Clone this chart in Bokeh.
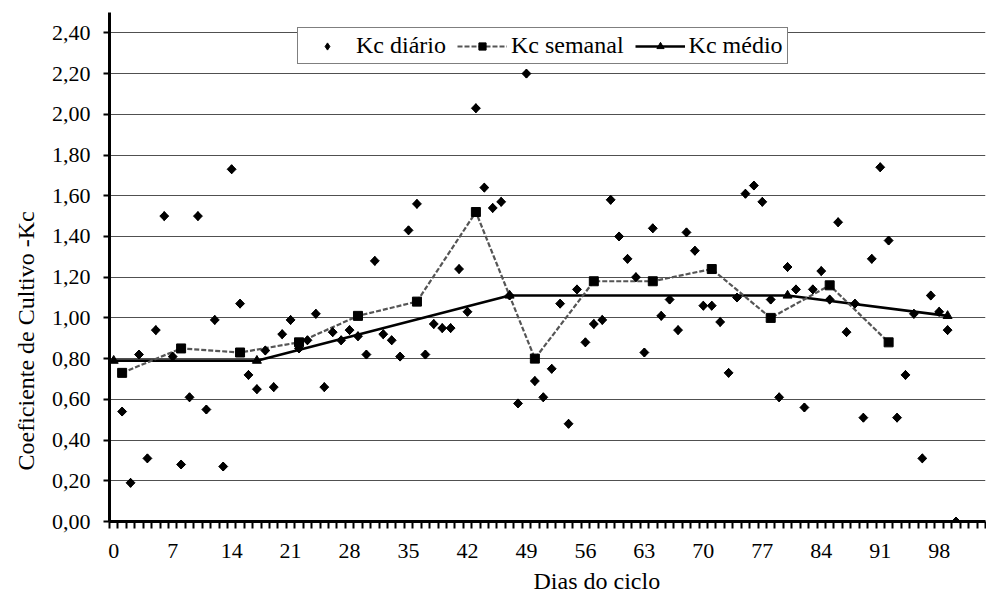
import numpy as np
from bokeh.plotting import figure
from bokeh.models import (Range1d, FixedTicker, CustomJSTickFormatter, Legend, LegendItem, Title)
from bokeh.embed import file_html
from bokeh.resources import INLINE

# ---- data ----
days_diario = list(range(1, 101))
kc_diario = [0.54, 0.19, 0.82, 0.31, 0.94, 1.50, 0.81, 0.28, 0.61, 1.50,
             0.55, 0.99, 0.27, 1.73, 1.07, 0.72, 0.65, 0.84, 0.66, 0.92,
             0.99, 0.85, 0.89, 1.02, 0.66, 0.93, 0.89, 0.94, 0.91, 0.82,
             1.28, 0.92, 0.89, 0.81, 1.43, 1.56, 0.82, 0.97, 0.95, 0.95,
             1.24, 1.03, 2.03, 1.64, 1.54, 1.57, 1.11, 0.58, 2.20, 0.69,
             0.61, 0.75, 1.07, 0.48, 1.14, 0.88, 0.97, 0.99, 1.58, 1.40,
             1.29, 1.20, 0.83, 1.44, 1.01, 1.09, 0.94, 1.42, 1.33, 1.06,
             1.06, 0.98, 0.73, 1.10, 1.61, 1.65, 1.57, 1.09, 0.61, 1.25,
             1.14, 0.56, 1.14, 1.23, 1.09, 1.47, 0.93, 1.07, 0.51, 1.29,
             1.74, 1.38, 0.51, 0.72, 1.02, 0.31, 1.11, 1.03, 0.94, 0.00]
days_semanal = [1, 8, 15, 22, 29, 36, 43, 50, 57, 64, 71, 78, 85, 92]
kc_semanal = [0.73, 0.85, 0.83, 0.88, 1.01, 1.08, 1.52, 0.80, 1.18, 1.18, 1.24, 1.00, 1.16, 0.88]
days_medio = [0, 17, 47, 80, 99]
kc_medio = [0.79, 0.79, 1.11, 1.11, 1.01]

n_categories = 104
x_tick_days = list(range(0, 99, 7))
y_ticks = [round(0.2 * i, 2) for i in range(13)]
y_max = 2.5

FONT = "Liberation Serif"

p = figure(width=986, height=598, output_backend="svg", toolbar_location=None,
           x_range=Range1d(-0.5, n_categories - 0.5), y_range=Range1d(0, y_max),
           min_border_left=109, min_border_right=1, min_border_top=12, min_border_bottom=77)
p.outline_line_color = None
p.background_fill_color = "white"
p.border_fill_color = "white"

# axes
xa = p.xaxis[0]
xa.ticker = FixedTicker(ticks=x_tick_days, minor_ticks=[d - 0.5 for d in range(n_categories + 1)])
xa.axis_line_width = 3
xa.axis_line_color = "black"
xa.major_tick_line_color = None
xa.major_tick_out = 0
xa.major_tick_in = 0
xa.minor_tick_line_color = "black"
xa.minor_tick_line_width = 2
xa.minor_tick_out = 7
xa.minor_tick_in = 0
xa.major_label_text_font = FONT
xa.major_label_text_font_size = "22px"
xa.major_label_text_color = "black"
xa.major_label_standoff = 15

ya = p.yaxis[0]
ya.ticker = FixedTicker(ticks=y_ticks)
ya.formatter = CustomJSTickFormatter(code="return tick.toFixed(2).replace('.', ',');")
ya.axis_line_width = 3
ya.axis_line_color = "black"
ya.major_tick_line_color = "black"
ya.major_tick_line_width = 2
ya.major_tick_out = 6
ya.major_tick_in = 0
ya.minor_tick_line_color = None
ya.major_label_text_font = FONT
ya.major_label_text_font_size = "22px"
ya.major_label_text_color = "black"
ya.major_label_standoff = 13

p.xgrid.grid_line_color = None
p.ygrid.ticker = FixedTicker(ticks=y_ticks[1:])
p.ygrid.grid_line_color = "#505050"
p.ygrid.grid_line_width = 1

# series
r_med_line = p.line(days_medio, kc_medio, line_color="black", line_width=2.6)
r_med_pts = p.scatter(days_medio, kc_medio, marker="triangle", size=9, fill_color="black", line_color="black")
r_sem_line = p.line(days_semanal, kc_semanal, line_color="#555555", line_width=2.2, line_dash="5 2")
r_sem_pts = p.scatter(days_semanal, kc_semanal, marker="square", size=9, fill_color="black", line_color="black")
# daily points: diamond (also used as the legend swatch) overlaid by a rotated square
r_dia_leg = p.scatter(days_diario, kc_diario, marker="diamond", size=9, fill_color="black", line_color="black")
r_dia = p.scatter(days_diario, kc_diario, marker="square", angle=np.pi / 4, size=6.3,
                  fill_color="black", line_color="black")

legend = Legend(items=[
    LegendItem(label="Kc diário", renderers=[r_dia_leg]),
    LegendItem(label="Kc semanal", renderers=[r_sem_line, r_sem_pts]),
    LegendItem(label="Kc médio", renderers=[r_med_line, r_med_pts]),
], orientation="horizontal", location=(188, 457))
legend.label_text_font = FONT
legend.label_text_font_size = "24px"
legend.label_text_color = "black"
legend.glyph_width = 50
legend.glyph_height = 18
legend.label_standoff = 4
legend.spacing = 11
legend.padding = 4
legend.margin = 0
legend.border_line_color = "black"
legend.border_line_width = 1
legend.background_fill_color = "white"
legend.background_fill_alpha = 1
p.add_layout(legend)

# axis titles
p.add_layout(Title(text="Dias do ciclo", align="left", offset=424, text_font=FONT,
                   text_font_size="24px", text_font_style="normal", text_color="black"), "below")
p.add_layout(Title(text="Coeficiente de Cultivo -Kc", align="left", offset=51, standoff=20,
                   text_font=FONT, text_font_size="24px", text_font_style="normal",
                   text_color="black"), "left")

open("out.html", "w").write(file_html(p, INLINE))
